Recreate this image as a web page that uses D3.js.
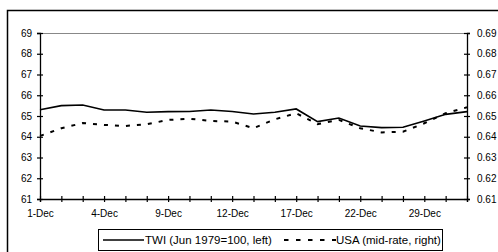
<!DOCTYPE html>
<html>
<head>
<meta charset="utf-8">
<script src="https://cdn.jsdelivr.net/npm/d3@7"></script>
<style>
  body { margin: 0; background: #fff; }
  svg { display: block; font-family: "Liberation Sans", Arial, sans-serif; }
</style>
</head>
<body>
<div id="chart"></div>
<script>
// trading days, December
const dates = ["1-Dec", "2-Dec", "3-Dec", "4-Dec", "5-Dec", "8-Dec", "9-Dec",
  "10-Dec", "11-Dec", "12-Dec", "15-Dec", "16-Dec", "17-Dec", "18-Dec", "19-Dec",
  "22-Dec", "23-Dec", "24-Dec", "29-Dec", "30-Dec", "31-Dec"];
const twi = [65.30, 65.50, 65.53, 65.29, 65.29, 65.18, 65.21, 65.22, 65.29, 65.22,
  65.10, 65.18, 65.34, 64.73, 64.90, 64.52, 64.44, 64.46, 64.76, 65.08, 65.21];
const usd = [0.6404, 0.6441, 0.6466, 0.6457, 0.6452, 0.6460, 0.6481, 0.6487, 0.6476,
  0.6473, 0.6441, 0.6484, 0.6513, 0.6461, 0.6481, 0.6441, 0.6421, 0.6424, 0.6465,
  0.6513, 0.6542];
const leftTicks = [61, 62, 63, 64, 65, 66, 67, 68, 69];
const rightTicks = [0.61, 0.62, 0.63, 0.64, 0.65, 0.66, 0.67, 0.68, 0.69];
const legendLabels = ["TWI (Jun 1979=100, left)", "USA (mid-rate, right)"];

const width = 498;
const height = 252;
const marginTop = 33;
const marginLeft = 40;
const marginRight = 31;
const plotBottom = 199;

const svg = d3.select("#chart")
  .append("svg")
  .attr("width", width)
  .attr("height", height);

// outer frame (runs off the right and bottom edge)
svg.append("rect")
  .attr("x", 7.5).attr("y", 10.5)
  .attr("width", width).attr("height", height)
  .attr("fill", "none")
  .attr("stroke", "#000")
  .attr("stroke-width", 1.5);

const x = d3.scalePoint()
  .domain(dates)
  .range([marginLeft, width - marginRight]);

const yL = d3.scaleLinear().domain([61, 69]).range([plotBottom, marginTop]);
const yR = d3.scaleLinear().domain([0.61, 0.69]).range([plotBottom, marginTop]);

// top border of plot area
svg.append("line")
  .attr("x1", marginLeft).attr("x2", width - marginRight)
  .attr("y1", marginTop + 0.5).attr("y2", marginTop + 0.5)
  .attr("stroke", "#888").attr("stroke-width", 1);

function styleAxis(g, horizontal) {
  g.select(".domain").attr("stroke", "#000").attr("stroke-width", 1.3);
  g.selectAll(".tick line").attr("stroke", "#000").attr("stroke-width", 1.2);
  if (horizontal) g.selectAll(".tick line").attr("y1", -3).attr("y2", 3);
  else g.selectAll(".tick line").attr("x1", -3).attr("x2", 3);
  g.selectAll(".tick text").attr("font-size", 10).attr("fill", "#000");
}

const gx = svg.append("g")
  .attr("transform", `translate(0,${plotBottom})`)
  .call(d3.axisBottom(x).tickSizeOuter(0).tickSize(3).tickPadding(8)
    .tickFormat((d, i) => (i % 3 === 0 ? d : "")));
styleAxis(gx, true);

const gl = svg.append("g")
  .attr("transform", `translate(${marginLeft},0)`)
  .call(d3.axisLeft(yL).tickValues(leftTicks).tickSizeOuter(0).tickSize(3).tickPadding(5)
    .tickFormat(d3.format("d")));
styleAxis(gl, false);

const gr = svg.append("g")
  .attr("transform", `translate(${width - marginRight},0)`)
  .call(d3.axisRight(yR).tickValues(rightTicks).tickSizeOuter(0).tickSize(3).tickPadding(7)
    .tickFormat(d3.format(".2f")));
styleAxis(gr, false);

const lineL = d3.line()
  .x((d, i) => x(dates[i]))
  .y(d => yL(d));
const lineR = d3.line()
  .x((d, i) => x(dates[i]))
  .y(d => yR(d));

svg.append("path")
  .datum(usd)
  .attr("d", lineR)
  .attr("fill", "none")
  .attr("stroke", "#000")
  .attr("stroke-width", 2)
  .attr("stroke-dasharray", "4,7");

svg.append("path")
  .datum(twi)
  .attr("d", lineL)
  .attr("fill", "none")
  .attr("stroke", "#000")
  .attr("stroke-width", 1.6);

// legend
const legend = svg.append("g");
legend.append("rect")
  .attr("x", 98.5).attr("y", 229.5)
  .attr("width", 344).attr("height", 21)
  .attr("fill", "#fff")
  .attr("stroke", "#000").attr("stroke-width", 1);

legend.append("line")
  .attr("x1", 103).attr("x2", 144).attr("y1", 240).attr("y2", 240)
  .attr("stroke", "#000").attr("stroke-width", 1.6);
legend.append("text")
  .attr("x", 145).attr("y", 244)
  .attr("font-size", 11.5)
  .text(legendLabels[0]);

legend.append("line")
  .attr("x1", 284).attr("x2", 336).attr("y1", 240).attr("y2", 240)
  .attr("stroke", "#000").attr("stroke-width", 2)
  .attr("stroke-dasharray", "4.5,7.5");
legend.append("text")
  .attr("x", 336).attr("y", 244)
  .attr("font-size", 11.5)
  .text(legendLabels[1]);
</script>
</body>
</html>
